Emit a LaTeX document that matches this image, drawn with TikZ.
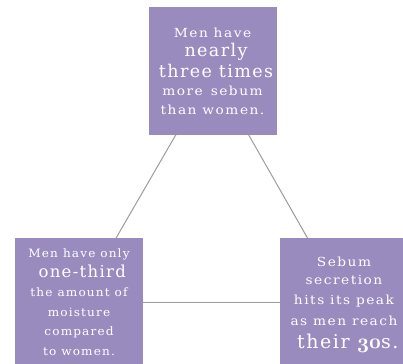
\documentclass[tikz,border=0pt]{standalone}
\usepackage{fontspec}
\usetikzlibrary{backgrounds}
\setmainfont{DejaVu Serif}
\newfontfamily\factsmfam{DejaVu Serif}[LetterSpace=12,FakeStretch=1.1]
\newfontfamily\factlftfam{DejaVu Serif}[LetterSpace=10,FakeStretch=1.05]
\newfontfamily\factlgfam{DejaVu Serif}[LetterSpace=8]
\definecolor{boxpurple}{HTML}{9A8BBF}
\definecolor{linkgrey}{HTML}{9C9C9C}
% small and large lines of the fact boxes
\newcommand\factsmall{\factsmfam\fontsize{12.5}{19.5}\selectfont}
\newcommand\factleft{\factlftfam\fontsize{11.5}{19.5}\selectfont}
\newcommand\factbig[1]{\factlgfam\fontsize{#1}{19.5}\selectfont}
% old-style figures
\newcommand\osfig[1]{{\usefont{OML}{cmm}{b}{it}#1}}
\begin{document}
\begin{tikzpicture}[x=1pt,y=-1pt,
  fact/.style={fill=boxpurple, minimum width=128pt, minimum height=128pt,
    inner sep=0pt, align=center, text=white,
    font=\fontsize{12}{19.5}\selectfont},
  link/.style={draw=linkgrey, line width=1pt}]
\useasboundingbox (0,0) rectangle (403,363);
\clip (0,0) rectangle (403,363);
\node[fact] (top) at (212.5,71.5) {\factsmall Men have\\
  \factbig{17.5} nearly\\[1.5pt] \factbig{17.5} three times\\[-2pt]
  \factsmall more\, sebum\\ \factsmall than women.};
\node[fact] (left) at (79,302) {\factleft Men have only\\
  \factbig{16.5} one-third\\ \factleft the amount of\\
  \factleft moisture\\ \factleft compared\\ \factleft to women.};
\node[fact] (right) at (344,302) {\factsmall\rule{0pt}{15.5pt}Sebum\\[-1.5pt]
  \factsmall secretion\\ \factsmall hits its peak\\[2pt]
  \factsmall as men reach\\[3pt]
  \factbig{19} their {\fontsize{21}{20}\selectfont\osfig{30}}s.};
\begin{scope}[on background layer]
  \draw[link] (top.center) -- (left.center);
  \draw[link] (top.center) -- (right.center);
  \draw[link] (left.center) -- (right.center);
\end{scope}
\end{tikzpicture}
\end{document}
